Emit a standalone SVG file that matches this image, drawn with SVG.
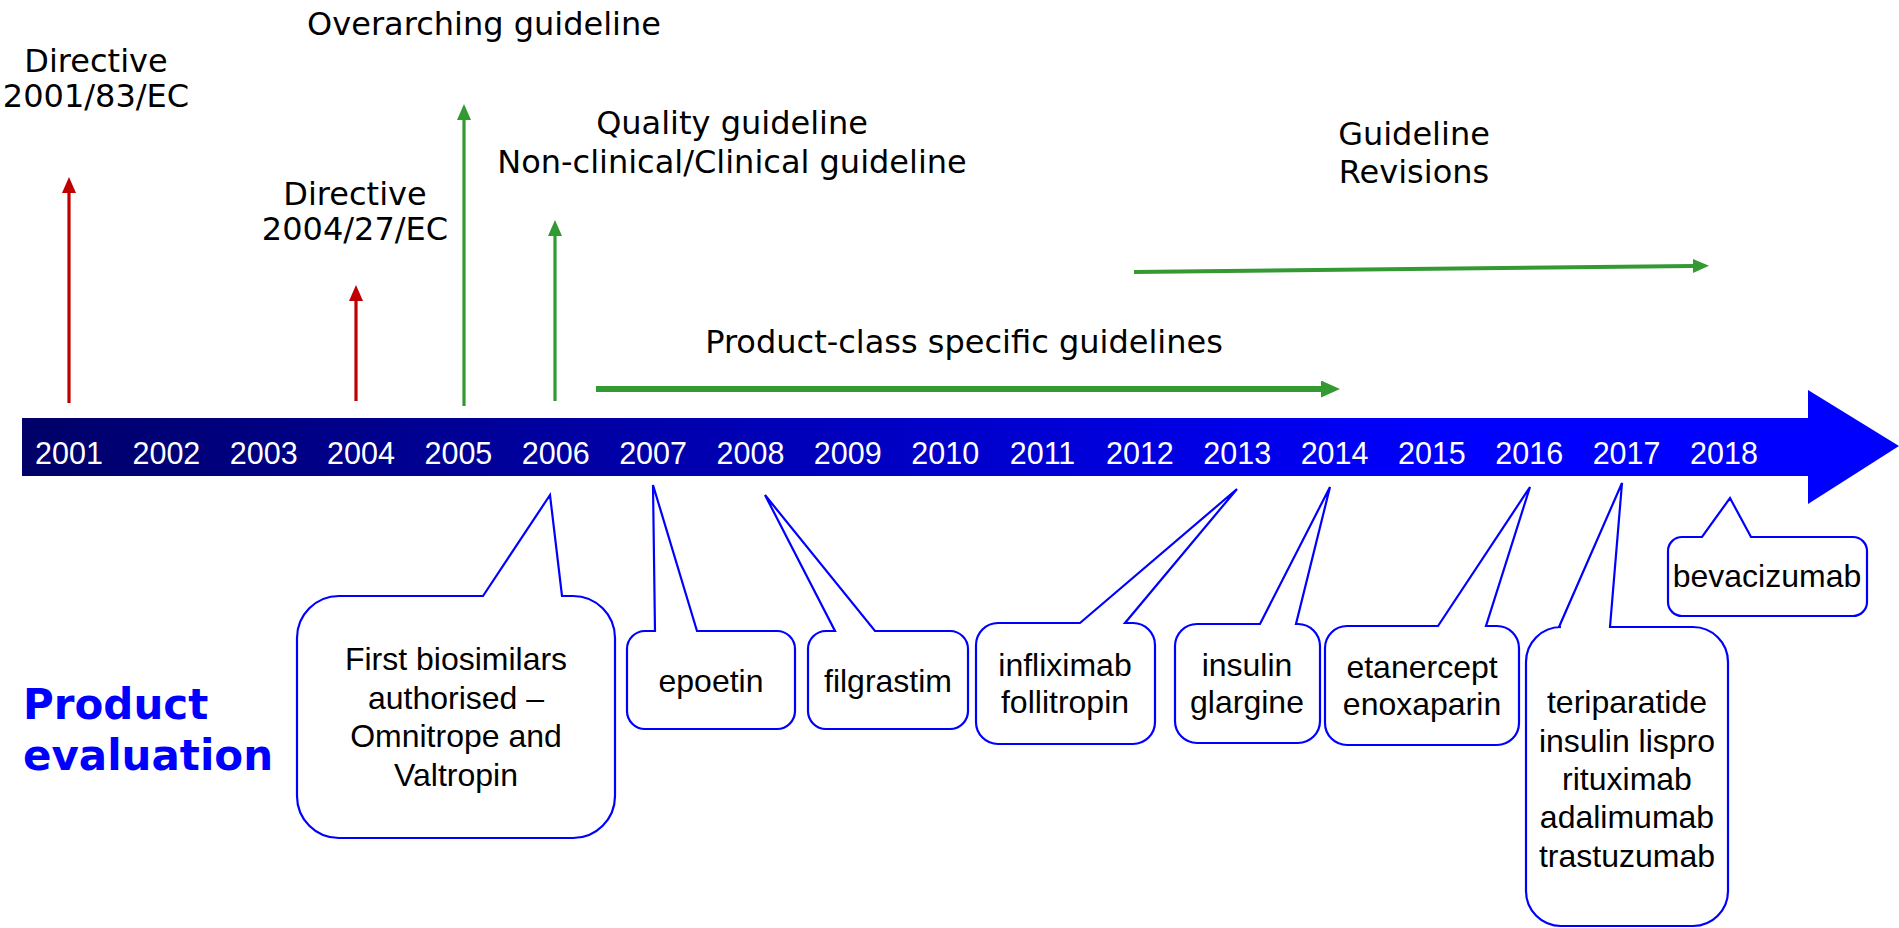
<svg xmlns="http://www.w3.org/2000/svg" width="1899" height="928" viewBox="0 0 1899 928">
<style>
.top{font-family:"DejaVu Sans","Verdana",sans-serif;font-size:32px;fill:#000;text-anchor:middle}
.yr{font-family:"Liberation Sans",Arial,sans-serif;font-size:30.5px;fill:#fff;text-anchor:middle}
.cl{font-family:"Liberation Sans",Arial,sans-serif;font-size:32px;fill:#000;text-anchor:middle}
.co{fill:#fff;stroke:#0000ff;stroke-width:2.2;stroke-linejoin:miter}
.red{stroke:#c00000;stroke-width:3.2;fill:none}
.grn{stroke:#339933;fill:none}
.pe{font-family:"DejaVu Sans","Verdana",sans-serif;font-weight:bold;font-size:42px;fill:#0000ff}
</style>
<defs>
<linearGradient id="barg" gradientUnits="userSpaceOnUse" x1="22" y1="0" x2="1808" y2="0">
<stop offset="0" stop-color="#000068"/>
<stop offset="0.8" stop-color="#0000ff"/>
<stop offset="1" stop-color="#0000ff"/>
</linearGradient>
<marker id="ahr" viewBox="0 0 16 14" refX="0" refY="7" markerWidth="16" markerHeight="14" markerUnits="userSpaceOnUse" orient="auto"><path d="M0,0 L16,7 L0,14 z" fill="#c00000"/></marker>
<marker id="ahg" viewBox="0 0 16 14" refX="0" refY="7" markerWidth="16" markerHeight="14" markerUnits="userSpaceOnUse" orient="auto"><path d="M0,0 L16,7 L0,14 z" fill="#339933"/></marker>
<marker id="ahg2" viewBox="0 0 19 17" refX="0" refY="8.5" markerWidth="19" markerHeight="17" markerUnits="userSpaceOnUse" orient="auto"><path d="M0,0 L19,8.5 L0,17 z" fill="#339933"/></marker>
</defs>
<rect width="1899" height="928" fill="#fff"/>

<g id="timeline">
<path d="M22,418 H1808 V390 L1899,446 L1808,504 V476 H22 Z" fill="url(#barg)"/>
<text class="yr" x="69" y="464">2001</text>
<text class="yr" x="166.4" y="464">2002</text>
<text class="yr" x="263.7" y="464">2003</text>
<text class="yr" x="361" y="464">2004</text>
<text class="yr" x="458.4" y="464">2005</text>
<text class="yr" x="555.8" y="464">2006</text>
<text class="yr" x="653.1" y="464">2007</text>
<text class="yr" x="750.5" y="464">2008</text>
<text class="yr" x="847.8" y="464">2009</text>
<text class="yr" x="945.2" y="464">2010</text>
<text class="yr" x="1042.5" y="464">2011</text>
<text class="yr" x="1139.9" y="464">2012</text>
<text class="yr" x="1237.2" y="464">2013</text>
<text class="yr" x="1334.6" y="464">2014</text>
<text class="yr" x="1431.9" y="464">2015</text>
<text class="yr" x="1529.3" y="464">2016</text>
<text class="yr" x="1626.6" y="464">2017</text>
<text class="yr" x="1724" y="464">2018</text>
</g>

<g id="connectors">
<line class="red" x1="69" y1="403" x2="69" y2="193" marker-end="url(#ahr)"/>
<line class="red" x1="356" y1="401" x2="356" y2="301" marker-end="url(#ahr)"/>
<line class="grn" stroke-width="3.2" x1="464" y1="406" x2="464" y2="120" marker-end="url(#ahg)"/>
<line class="grn" stroke-width="3.2" x1="555" y1="401" x2="555" y2="236" marker-end="url(#ahg)"/>
<line class="grn" stroke-width="6" x1="596" y1="389" x2="1321" y2="389" marker-end="url(#ahg2)"/>
<line class="grn" stroke-width="4" x1="1134" y1="272" x2="1693" y2="266" marker-end="url(#ahg)"/>
</g>

<g id="label-directive-2001">
<text class="top" x="96" y="72">Directive</text>
<text class="top" x="96" y="107">2001/83/EC</text>
</g>
<g id="label-overarching">
<text class="top" x="484" y="35">Overarching guideline</text>
</g>
<g id="label-quality">
<text class="top" x="732" y="134">Quality guideline</text>
<text class="top" x="732" y="173">Non-clinical/Clinical guideline</text>
</g>
<g id="label-directive-2004">
<text class="top" x="355" y="205">Directive</text>
<text class="top" x="355" y="240">2004/27/EC</text>
</g>
<g id="label-product-class">
<text class="top" x="964" y="353">Product-class specific guidelines</text>
</g>
<g id="label-revisions">
<text class="top" x="1414" y="145">Guideline</text>
<text class="top" x="1414" y="183">Revisions</text>
</g>

<g id="product-evaluation">
<text class="pe" x="23" y="719">Product</text>
<text class="pe" x="23" y="770">evaluation</text>
</g>

<g id="callout-first">
<path class="co" d="M339,596 L483,596 L550,495 L562,596 L573,596 A42,42 0 0 1 615,638 L615,796 A42,42 0 0 1 573,838 L339,838 A42,42 0 0 1 297,796 L297,638 A42,42 0 0 1 339,596 Z"/>
<text class="cl" x="456" y="670">First biosimilars</text>
<text class="cl" x="456" y="709">authorised –</text>
<text class="cl" x="456" y="747">Omnitrope and</text>
<text class="cl" x="456" y="786">Valtropin</text>
</g>
<g id="callout-epoetin">
<path class="co" d="M645,631 L655,631 L653,485 L697,631 L777,631 A18,18 0 0 1 795,649 L795,711 A18,18 0 0 1 777,729 L645,729 A18,18 0 0 1 627,711 L627,649 A18,18 0 0 1 645,631 Z"/>
<text class="cl" x="711" y="692">epoetin</text>
</g>
<g id="callout-filgrastim">
<path class="co" d="M826,631 L835,631 L765,495 L875,631 L950,631 A18,18 0 0 1 968,649 L968,711 A18,18 0 0 1 950,729 L826,729 A18,18 0 0 1 808,711 L808,649 A18,18 0 0 1 826,631 Z"/>
<text class="cl" x="888" y="692">filgrastim</text>
</g>
<g id="callout-infliximab">
<path class="co" d="M998,623 L1080,623 L1237,489 L1125,623 L1133,623 A22,22 0 0 1 1155,645 L1155,722 A22,22 0 0 1 1133,744 L998,744 A22,22 0 0 1 976,722 L976,645 A22,22 0 0 1 998,623 Z"/>
<text class="cl" x="1065" y="676">infliximab</text>
<text class="cl" x="1065" y="713">follitropin</text>
</g>
<g id="callout-insulin">
<path class="co" d="M1197,624 L1260,624 L1330,487 L1296,624 L1298,624 A22,22 0 0 1 1320,646 L1320,721 A22,22 0 0 1 1298,743 L1197,743 A22,22 0 0 1 1175,721 L1175,646 A22,22 0 0 1 1197,624 Z"/>
<text class="cl" x="1247" y="676">insulin</text>
<text class="cl" x="1247" y="713">glargine</text>
</g>
<g id="callout-etanercept">
<path class="co" d="M1347,626 L1438,626 L1530,487 L1486,626 L1497,626 A22,22 0 0 1 1519,648 L1519,723 A22,22 0 0 1 1497,745 L1347,745 A22,22 0 0 1 1325,723 L1325,648 A22,22 0 0 1 1347,626 Z"/>
<text class="cl" x="1422" y="678">etanercept</text>
<text class="cl" x="1422" y="715">enoxaparin</text>
</g>
<g id="callout-teriparatide">
<path class="co" d="M1561,627 L1559,627 L1622,483 L1610,627 L1693,627 A35,35 0 0 1 1728,662 L1728,891 A35,35 0 0 1 1693,926 L1561,926 A35,35 0 0 1 1526,891 L1526,662 A35,35 0 0 1 1561,627 Z"/>
<text class="cl" x="1627" y="713">teriparatide</text>
<text class="cl" x="1627" y="752">insulin lispro</text>
<text class="cl" x="1627" y="790">rituximab</text>
<text class="cl" x="1627" y="828">adalimumab</text>
<text class="cl" x="1627" y="867">trastuzumab</text>
</g>
<g id="callout-bevacizumab">
<path class="co" d="M1682,537 L1702,537 L1730,498 L1751,537 L1853,537 A14,14 0 0 1 1867,551 L1867,602 A14,14 0 0 1 1853,616 L1682,616 A14,14 0 0 1 1668,602 L1668,551 A14,14 0 0 1 1682,537 Z"/>
<text class="cl" x="1767" y="587">bevacizumab</text>
</g>
</svg>
